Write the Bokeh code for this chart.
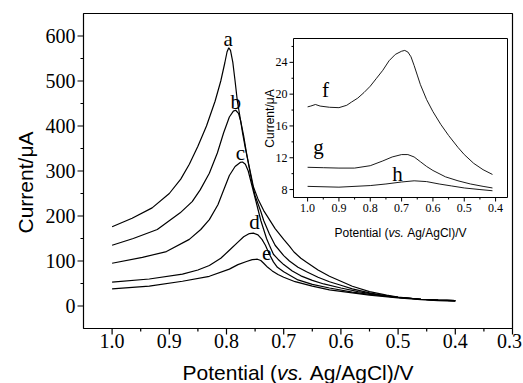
import math
from bokeh.plotting import figure
from bokeh.models import Range1d, Label
from bokeh.embed import file_html
from bokeh.resources import INLINE
from bokeh.core.properties import value

# ---------------- main panel data (potential V, current uA) ----------------
a_pot = [1.00, 0.965, 0.93, 0.90, 0.88, 0.865, 0.85, 0.835, 0.82, 0.81,
         0.803, 0.799, 0.796, 0.793, 0.789, 0.785, 0.781, 0.777, 0.772, 0.767,
         0.762, 0.757, 0.753, 0.745, 0.735, 0.728, 0.715, 0.70, 0.69, 0.682,
         0.67, 0.66, 0.64, 0.62, 0.60, 0.58, 0.55, 0.52, 0.50, 0.46, 0.43, 0.40]
a_cur = [176, 195, 218, 250, 282, 315, 355, 400, 455, 500,
         540, 565, 574, 568, 542, 500, 455, 425, 385, 350,
         320, 290, 265, 238, 212, 198, 172, 148, 133, 120,
         106, 97, 80, 66, 55, 44, 32, 24, 20, 15, 13, 12]

b_pot = [1.00, 0.963, 0.921, 0.881, 0.86, 0.846, 0.83, 0.816, 0.805, 0.795,
         0.788, 0.784, 0.779, 0.775, 0.77, 0.765, 0.76, 0.755, 0.75, 0.74,
         0.735, 0.725, 0.715, 0.70, 0.69, 0.675, 0.66, 0.64, 0.62, 0.60,
         0.58, 0.55, 0.52, 0.50, 0.46, 0.43, 0.40]
b_cur = [135, 150, 170, 207, 232, 258, 295, 340, 385, 420,
         433, 435, 428, 410, 378, 340, 305, 272, 245, 210,
         190, 160, 135, 112, 100, 86, 76, 64, 54, 46,
         38, 29, 22, 19, 15, 13, 12]

c_pot = [1.00, 0.947, 0.905, 0.865, 0.845, 0.83, 0.815, 0.807, 0.795, 0.785,
         0.776, 0.772, 0.767, 0.762, 0.757, 0.752, 0.745, 0.74, 0.735, 0.73,
         0.725, 0.718, 0.71, 0.70, 0.685, 0.67, 0.65, 0.63, 0.60, 0.57,
         0.54, 0.50, 0.46, 0.43, 0.40]
c_cur = [95, 108, 121, 148, 170, 192, 225, 251, 290, 310,
         319, 320, 315, 300, 275, 250, 215, 190, 170, 150,
         135, 115, 104, 92, 78, 67, 57, 49, 40, 32,
         26, 19, 15, 13, 12]

d_pot = [1.00, 0.935, 0.877, 0.85, 0.83, 0.81, 0.795, 0.78, 0.77, 0.76,
         0.753, 0.745, 0.738, 0.732, 0.725, 0.718, 0.711, 0.70, 0.675, 0.65,
         0.62, 0.58, 0.55, 0.50, 0.46, 0.43, 0.40]
d_cur = [53, 60, 71, 80, 90, 106, 124, 142, 154, 161,
         162, 158, 148, 135, 115, 98, 86, 76, 58, 48,
         40, 31, 26, 19, 15, 13, 12]

e_pot = [1.00, 0.935, 0.877, 0.83, 0.795, 0.78, 0.765, 0.755, 0.746, 0.74,
         0.735, 0.728, 0.72, 0.71, 0.70, 0.68, 0.65, 0.62, 0.58, 0.55,
         0.50, 0.46, 0.43, 0.40]
e_cur = [38, 44, 55, 66, 82, 92, 99, 103, 104, 101,
         95, 86, 78, 70, 64, 54, 44, 36, 29, 24,
         18, 14, 12, 11]

main_labels = ["a", "b", "c", "d", "e"]
main_label_pot = [0.797, 0.784, 0.7755, 0.751, 0.730]
main_label_cur = [594, 454, 341, 186, 117]

main_xticks = [1.0, 0.9, 0.8, 0.7, 0.6, 0.5, 0.4, 0.3]
main_xtick_labels = ["1.0", "0.9", "0.8", "0.7", "0.6", "0.5", "0.4", "0.3"]
main_xminor = [0.95, 0.85, 0.75, 0.65, 0.55, 0.45, 0.35]
main_yticks = [0, 100, 200, 300, 400, 500, 600]
main_ytick_labels = ["0", "100", "200", "300", "400", "500", "600"]
main_yminor = [50, 150, 250, 350, 450, 550]

# ---------------- inset data ----------------
f_pot = [1.00, 0.99, 0.975, 0.96, 0.93, 0.90, 0.875, 0.86, 0.84, 0.82,
         0.80, 0.78, 0.76, 0.74, 0.72, 0.70, 0.69, 0.68, 0.67, 0.66,
         0.65, 0.64, 0.62, 0.60, 0.575, 0.55, 0.52, 0.50, 0.47, 0.44, 0.41]
f_cur = [18.4, 18.5, 18.7, 18.5, 18.35, 18.3, 18.6, 19.0, 19.5, 20.2,
         21.0, 22.0, 23.0, 24.2, 25.0, 25.4, 25.5, 25.3, 24.7, 23.6,
         22.4, 21.2, 19.3, 17.8, 16.2, 14.8, 13.3, 12.4, 11.3, 10.5, 9.9]

g_pot = [1.00, 0.95, 0.90, 0.85, 0.80, 0.76, 0.73, 0.70, 0.68, 0.66,
         0.64, 0.62, 0.60, 0.56, 0.52, 0.48, 0.44, 0.41]
g_cur = [10.8, 10.75, 10.7, 10.7, 11.0, 11.6, 12.1, 12.4, 12.4, 12.1,
         11.5, 10.9, 10.4, 9.6, 9.1, 8.7, 8.4, 8.2]

h_pot = [1.00, 0.90, 0.80, 0.75, 0.70, 0.66, 0.62, 0.58, 0.54, 0.50, 0.45, 0.41]
h_cur = [8.4, 8.3, 8.5, 8.7, 8.95, 9.1, 9.0, 8.7, 8.45, 8.2, 8.0, 7.85]

inset_labels = ["f", "g", "h"]
inset_label_pot = [0.9425, 0.965, 0.713]
inset_label_cur = [20.5, 13.4, 10.0]

inset_xticks = [1.0, 0.9, 0.8, 0.7, 0.6, 0.5, 0.4]
inset_xtick_labels = ["1.0", "0.9", "0.8", "0.7", "0.6", "0.5", "0.4"]
inset_xminor = [0.95, 0.85, 0.75, 0.65, 0.55, 0.45]
inset_yticks = [8, 12, 16, 20, 24]
inset_ytick_labels = ["8", "12", "16", "20", "24"]
inset_yminor = [10, 14, 18, 22, 26]

# ---------------- ranges / layout ----------------
W, H = 523, 383
MAIN_X = (1.05, 0.30)
MAIN_Y = (-50, 650)
INSET_X = (1.045, 0.362)
INSET_Y = (7.0, 27.0)
# plot boxes in canvas pixels: (left, right, top, bottom)
MAIN_BOX = (83, 512, 13, 328)
INSET_BOX = (293, 507, 38, 197)

def extended(r, f0, f1):
    span = (r[1] - r[0]) / (f1 - f0)
    start = r[0] - f0 * span
    return Range1d(start, start + span)

def ranges_for(rx, ry, box):
    l, r, t, b = box
    return (extended(rx, l / W, r / W), extended(ry, (H - b) / H, (H - t) / H))

mx, my = ranges_for(MAIN_X, MAIN_Y, MAIN_BOX)
ix, iy = ranges_for(INSET_X, INSET_Y, INSET_BOX)

p = figure(width=W, height=H, output_backend="svg", toolbar_location=None, title=None,
           x_range=mx, y_range=my, x_axis_location=None, y_axis_location=None,
           min_border=0, min_border_left=0, min_border_right=0,
           min_border_top=0, min_border_bottom=0)
p.extra_x_ranges = {"inset": ix}
p.extra_y_ranges = {"inset": iy}
p.grid.visible = False
p.outline_line_color = None
p.background_fill_color = "white"
p.border_fill_color = "white"

SERIF = value("Liberation Serif")

def axes_box(xr, yr, xt, xtl, xm, yt, ytl, ym, major, minor, fsize, xoff, yoff, lw,
             last_shift=0, **kw):
    p.quad(left=[xr[0]], right=[xr[1]], bottom=[yr[0]], top=[yr[1]],
           fill_color="white", line_color="black", line_width=lw, **kw)
    p.ray(x=xt, y=[yr[0]] * len(xt), length=major, length_units="screen",
          angle=-math.pi / 2, line_color="black", line_width=lw, **kw)
    p.ray(x=xm, y=[yr[0]] * len(xm), length=minor, length_units="screen",
          angle=-math.pi / 2, line_color="black", line_width=lw, **kw)
    p.ray(x=[xr[0]] * len(yt), y=yt, length=major, length_units="screen",
          angle=math.pi, line_color="black", line_width=lw, **kw)
    p.ray(x=[xr[0]] * len(ym), y=ym, length=minor, length_units="screen",
          angle=math.pi, line_color="black", line_width=lw, **kw)
    # keep the last x label inside the canvas edge
    xoffs = [0] * (len(xt) - 1) + [last_shift]
    p.text(x=xt, y=[yr[0]] * len(xt), text=xtl, y_offset=yoff, x_offset=xoffs,
           text_align="center", text_baseline="top", text_font=SERIF,
           text_font_size=value(fsize), text_color="black", **kw)
    p.text(x=[xr[0]] * len(yt), y=yt, text=ytl, x_offset=-xoff,
           text_align="right", text_baseline="middle", text_font=SERIF,
           text_font_size=value(fsize), text_color="black", **kw)

# ---------------- main panel ----------------
axes_box(MAIN_X, MAIN_Y, main_xticks, main_xtick_labels, main_xminor,
         main_yticks, main_ytick_labels, main_yminor,
         6, 3, "20px", 8, 5, 1.2, last_shift=-3)

for xs, ys in ((a_pot, a_cur), (b_pot, b_cur), (c_pot, c_cur), (d_pot, d_cur), (e_pot, e_cur)):
    p.line(xs, ys, line_color="black", line_width=1.2)

p.text(x=main_label_pot, y=main_label_cur, text=main_labels, text_font=SERIF,
       text_font_size=value("21px"), text_align="center", text_baseline="middle",
       text_color="black")

# ---------------- inset ----------------
IR = dict(x_range_name="inset", y_range_name="inset")
axes_box(INSET_X, INSET_Y, inset_xticks, inset_xtick_labels, inset_xminor,
         inset_yticks, inset_ytick_labels, inset_yminor,
         4, 2, "12px", 6, 6, 1.0, **IR)
for xs, ys in ((f_pot, f_cur), (g_pot, g_cur), (h_pot, h_cur)):
    p.line(xs, ys, line_color="black", line_width=0.9, **IR)
p.text(x=inset_label_pot, y=inset_label_cur, text=inset_labels, text_font=SERIF,
       text_font_size=value("21px"), text_align="center", text_baseline="middle",
       text_color="black", **IR)

# ---------------- axis titles (canvas pixels, y measured from bottom) ----------------
def lab(x, y, text, size, style="normal", angle=0.0, align="left"):
    p.add_layout(Label(x=x, y=y, x_units="screen", y_units="screen", text=text,
                       text_font="Liberation Sans", text_font_size=size,
                       text_font_style=style, text_color="black",
                       text_align=align, text_baseline="alphabetic", angle=angle))

def xtitle(x0, baseline_y, fs):
    lab(x0, H - baseline_y, "Potential (", f"{fs}px")
    lab(x0 + 4.502 * fs, H - baseline_y, "vs.", f"{fs}px", style="italic")
    lab(x0 + (4.502 + 1.278 + 0.278) * fs, H - baseline_y, "Ag/AgCl)/V", f"{fs}px")

xtitle(182, 372, 21)
lab(25, H - 182, "Current/\u03bcA", "21px", angle=math.pi / 2, align="center")

xtitle(334, 232, 12)
lab(269, H - 118, "Current/\u03bcA", "12px", angle=math.pi / 2, align="center")

open("out.html", "w").write(file_html(p, INLINE))
